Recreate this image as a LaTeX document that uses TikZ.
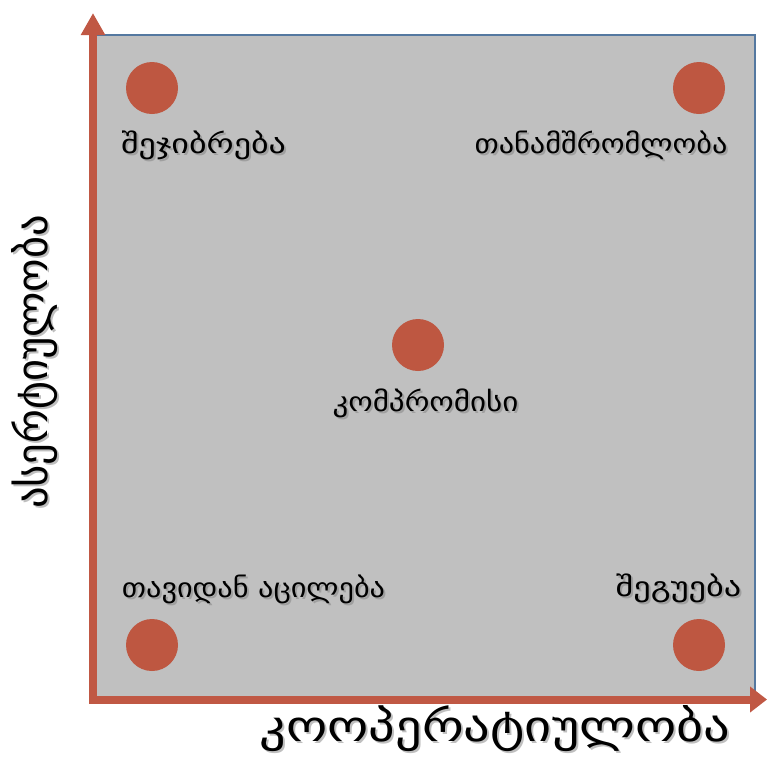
\documentclass[tikz,border=0pt]{standalone}
\usepackage{fontspec}
\setmainfont{DejaVu Sans}
\usetikzlibrary{arrows.meta}
\definecolor{axisred}{RGB}{192,88,68}
\definecolor{dotred}{RGB}{190,87,65}
\definecolor{panelgray}{RGB}{192,192,192}
\definecolor{panelborder}{RGB}{84,120,160}
\newcommand{\widetxt}[2]{\scalebox{#1}[1]{#2}}
\tikzset{
  dot/.style={circle,fill=dotred,minimum size=52pt,inner sep=0pt},
  lbl/.style={font=\fontsize{27}{30}\selectfont,text=black,inner sep=0pt},
  axislbl/.style={font=\fontsize{43}{47}\selectfont,text=black,inner sep=0pt},
  shadowtxt/.style={text=black!50,opacity=0.5},
  axisline/.style={draw=axisred,line width=8pt},
}
\begin{document}
\begin{tikzpicture}[x=1pt,y=-1pt]
\useasboundingbox (0,0) rectangle (767,756);
% panel
\fill[panelgray] (96,35) rectangle (755,696);
\draw[panelborder,line width=1.2pt] (96,35) -- (755,35) -- (755,696);
% axes
\coordinate (ybase) at (93,703);
\coordinate (ytip) at (93,13);
\coordinate (xtip) at (767,699.5);
\coordinate (xstart) at (89,699.5);
\draw[axisline,-{Triangle[length=22pt,width=23pt]}] (ybase) -- (ytip);
\draw[axisline,-{Triangle[length=17pt,width=25pt]}] (xstart) -- (xtip);
% dots
\node[dot] (d1) at (152,88) {};
\node[dot] (d2) at (699,88) {};
\node[dot] (d3) at (418,345) {};
\node[dot] (d4) at (152,645) {};
\node[dot] (d5) at (699,645) {};
% labels with soft shadow
\node[lbl,shadowtxt] at (205.5,147) {\widetxt{1.26}{შეჯიბრება}};
\node[lbl] (l1) at (203.5,145) {\widetxt{1.26}{შეჯიბრება}};
\node[lbl,shadowtxt] at (603,147) {\widetxt{1.12}{თანამშრომლობა}};
\node[lbl] (l2) at (601,145) {\widetxt{1.12}{თანამშრომლობა}};
\node[lbl,shadowtxt] at (427.5,405) {\widetxt{1.15}{კომპრომისი}};
\node[lbl] (l3) at (425.5,403) {\widetxt{1.15}{კომპრომისი}};
\node[lbl,shadowtxt] at (255.5,591) {\widetxt{1.12}{თავიდან აცილება}};
\node[lbl] (l4) at (253.5,589) {\widetxt{1.12}{თავიდან აცილება}};
\node[lbl,shadowtxt] at (680.5,590) {\widetxt{1.27}{შეგუება}};
\node[lbl] (l5) at (678.5,588) {\widetxt{1.27}{შეგუება}};
% axis titles with soft shadow
\node[axislbl,shadowtxt] at (497,731) {\widetxt{1.22}{კოოპერატიულობა}};
\node[axislbl] (xl) at (495,729) {\widetxt{1.22}{კოოპერატიულობა}};
\node[axislbl,rotate=90,shadowtxt] at (37,364) {\widetxt{0.99}{ასერტიულობა}};
\node[axislbl,rotate=90] (yl) at (35,362) {\widetxt{0.99}{ასერტიულობა}};
\end{tikzpicture}
\end{document}
